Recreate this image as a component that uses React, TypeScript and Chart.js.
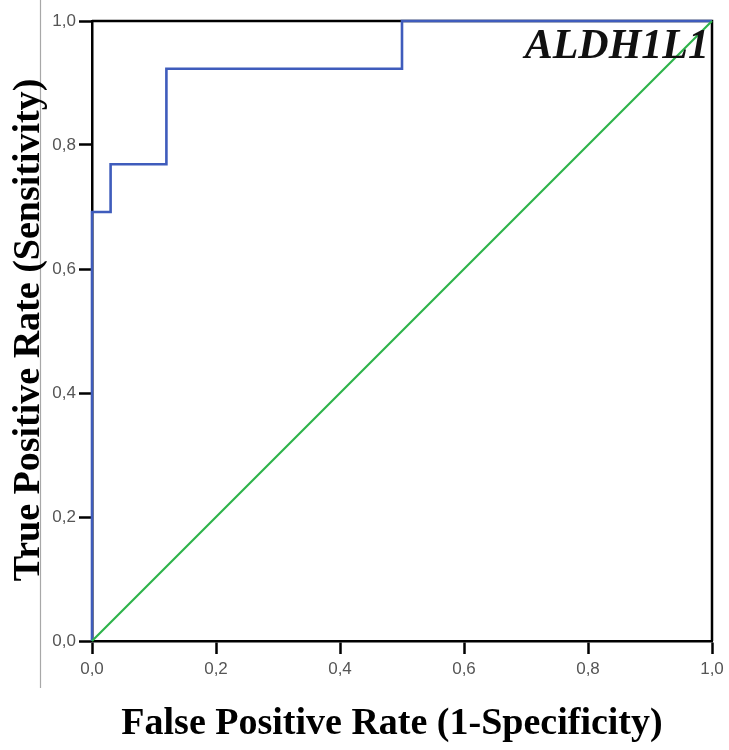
import React, { useEffect, useRef } from "react";
import { Chart, registerables } from "chart.js";

Chart.register(...registerables);

const fprValues = [0, 0, 0.03, 0.03, 0.12, 0.12, 0.5, 0.5, 1];
const tprValues = [0, 0.692, 0.692, 0.769, 0.769, 0.923, 0.923, 1, 1];
const refX = [0, 1];
const refY = [0, 1];
const tickValues = [0, 0.2, 0.4, 0.6, 0.8, 1.0];
const markerLabel = "ALDH1L1";
const xTitle = "False Positive Rate (1-Specificity)";
const yTitle = "True Positive Rate (Sensitivity)";

const W = 729;
const H = 750;
const TITLE_FONT = "bold 38px 'Liberation Serif', 'Times New Roman', serif";

const framePlugin = {
  id: "frame",
  beforeDatasetsDraw(chart: any) {
    const { ctx, chartArea } = chart;
    ctx.save();
    ctx.strokeStyle = "#000";
    ctx.lineWidth = 2.5;
    ctx.beginPath();
    ctx.moveTo(chartArea.left, chartArea.top);
    ctx.lineTo(chartArea.right, chartArea.top);
    ctx.lineTo(chartArea.right, chartArea.bottom);
    ctx.stroke();
    // thin gray rule at the left
    ctx.strokeStyle = "#a8a8a8";
    ctx.lineWidth = 1.2;
    ctx.beginPath();
    ctx.moveTo(40.5, 0);
    ctx.lineTo(40.5, 688);
    ctx.stroke();
    ctx.restore();
  },
  afterDatasetsDraw(chart: any) {
    const { ctx, chartArea } = chart;
    ctx.save();
    ctx.fillStyle = "#111";
    ctx.font = "italic bold 42px 'Liberation Serif', 'Times New Roman', serif";
    ctx.textAlign = "right";
    ctx.textBaseline = "alphabetic";
    ctx.fillText(markerLabel, chartArea.right - 3, chartArea.top + 37);

    // axis titles
    ctx.fillStyle = "#000";
    ctx.font = TITLE_FONT;
    ctx.textAlign = "center";
    ctx.textBaseline = "alphabetic";
    ctx.fillText(xTitle, 392, 734);
    ctx.translate(39, 330);
    ctx.rotate(-Math.PI / 2);
    ctx.fillText(yTitle, 0, 0);
    ctx.restore();
  },
};

export default function App() {
  const ref = useRef<HTMLCanvasElement | null>(null);

  useEffect(() => {
    if (!ref.current) return;
    const fmt = (v: any) => Number(v).toFixed(1).replace(".", ",");
    const tickFont = { family: "'Liberation Sans', Arial, sans-serif", size: 17 };
    const chart = new Chart(ref.current, {
      type: "scatter",
      data: {
        datasets: [
          {
            label: "Reference",
            data: refX.map((x, i) => ({ x, y: refY[i] })),
            showLine: true,
            borderColor: "#2db34a",
            borderWidth: 2.2,
            pointRadius: 0,
            tension: 0,
            clip: 6,
          },
          {
            label: markerLabel,
            data: fprValues.map((x, i) => ({ x, y: tprValues[i] })),
            showLine: true,
            borderColor: "#3f5cbc",
            borderWidth: 2.6,
            pointRadius: 0,
            tension: 0,
            clip: 6,
          },
        ],
      },
      options: {
        responsive: false,
        animation: false,
        layout: { padding: { top: 21, right: 17, left: 0, bottom: 0 } },
        plugins: { legend: { display: false }, tooltip: { enabled: false } },
        scales: {
          x: {
            type: "linear",
            min: 0,
            max: 1,
            afterFit: (s: any) => {
              s.height = 109;
            },
            afterBuildTicks: (s: any) => {
              s.ticks = tickValues.map((v) => ({ value: v }));
            },
            ticks: { callback: fmt, color: "#555", font: tickFont, padding: 5, maxRotation: 0 },
            grid: {
              drawOnChartArea: false,
              drawTicks: true,
              tickLength: 13,
              tickColor: "#000",
              tickWidth: 2.5,
              color: "#000",
            },
            border: { display: true, color: "#000", width: 2.5 },
            title: { display: false },
          },
          y: {
            type: "linear",
            min: 0,
            max: 1,
            afterFit: (s: any) => {
              s.width = 92;
            },
            afterBuildTicks: (s: any) => {
              s.ticks = tickValues.map((v) => ({ value: v }));
            },
            ticks: { callback: fmt, color: "#555", font: tickFont, padding: 3 },
            grid: {
              drawOnChartArea: false,
              drawTicks: true,
              tickLength: 13,
              tickColor: "#000",
              tickWidth: 2.5,
              color: "#000",
            },
            border: { display: true, color: "#000", width: 2.5 },
            title: { display: false },
          },
        },
      },
      plugins: [framePlugin],
    });
    return () => chart.destroy();
  }, []);

  return (
    <div style={{ position: "absolute", left: 0, top: 0, width: W, height: H, background: "#fff" }}>
      <canvas ref={ref} width={W} height={H} style={{ display: "block" }} />
    </div>
  );
}
